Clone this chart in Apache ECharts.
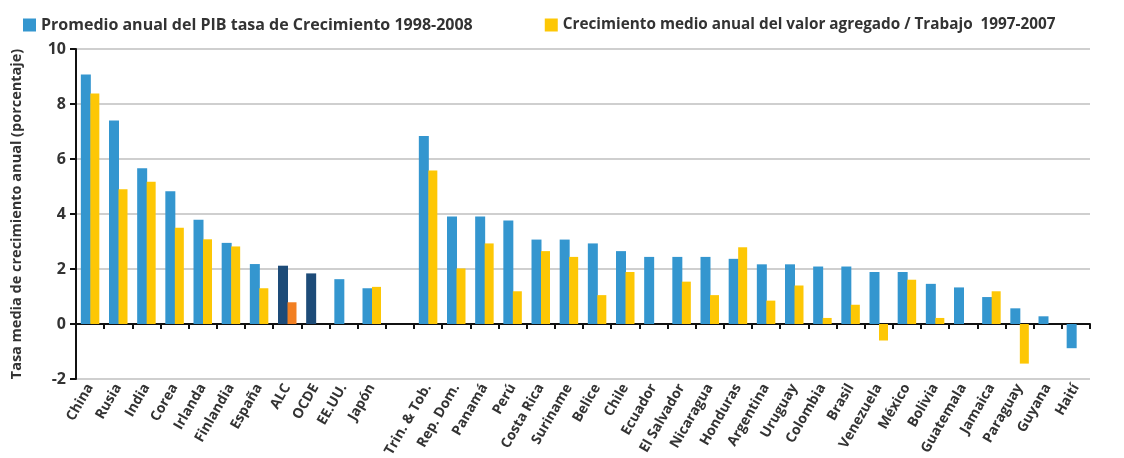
<!DOCTYPE html>
<html><head><meta charset="utf-8">
<script src="https://cdn.jsdelivr.net/npm/echarts@6/dist/echarts.min.js"></script>
<style>html,body{margin:0;padding:0;background:#fff}#c{width:1124px;height:458px}</style>
</head><body><div id="c"></div>
<script>
const categories = ['China','Rusia','India','Corea','Irlanda','Finlandia','España','ALC','OCDE','EE.UU.','Japón','',
 'Trin. & Tob.','Rep. Dom.','Panamá','Perú','Costa Rica','Suriname','Belice','Chile','Ecuador','El Salvador','Nicaragua',
 'Honduras','Argentina','Uruguay','Colombia','Brasil','Venezuela','México','Bolivia','Guatemala','Jamaica','Paraguay','Guyana','Haití'];
const pibGrowth = [9.07,7.4,5.66,4.83,3.79,2.95,2.18,2.12,1.84,1.63,1.3,null,
 6.84,3.91,3.91,3.76,3.07,3.07,2.93,2.65,2.44,2.44,2.44,
 2.37,2.17,2.17,2.09,2.09,1.89,1.89,1.46,1.33,0.98,0.57,0.28,-0.88];
const valueAddedGrowth = [8.38,4.9,5.17,3.5,3.08,2.82,1.3,0.79,null,null,1.35,null,
 5.58,2.02,2.93,1.19,2.65,2.44,1.05,1.89,null,1.54,1.05,
 2.79,0.85,1.4,0.22,0.7,-0.6,1.61,0.22,null,1.19,-1.44,null,null];
const yTicks = [-2,0,2,4,6,8,10];
const highlighted = ['ALC','OCDE'];
const seriesNames = ['Promedio anual del PIB tasa de Crecimiento 1998-2008','Crecimiento medio anual del valor agregado / Trabajo  1997-2007'];

const BLUE='#3496cf', YELLOW='#fdc705', NAVY='#1d4b78', ORANGE='#f27f22';
const FONT='Open Sans';
const blueData = pibGrowth.map((v,i)=> highlighted.includes(categories[i]) ? {value:v,itemStyle:{color:NAVY}} : v);
const yellowData = valueAddedGrowth.map((v,i)=> highlighted.includes(categories[i]) ? {value:v,itemStyle:{color:ORANGE}} : v);

const chart = echarts.init(document.getElementById('c'));
chart.setOption({
  animation:false,
  textStyle:{fontFamily:FONT},
  legend:{left:18,top:12,itemWidth:13,itemHeight:13,itemGap:72,icon:'rect',
    textStyle:{fontFamily:FONT,fontWeight:'bold',fontSize:16,color:'#333'},
    data:[{name:seriesNames[0]},{name:seriesNames[1],textStyle:{fontSize:15.3}}]},
  grid:{left:76,right:34,top:49,bottom:79,containLabel:false,outerBoundsMode:'none'},
  xAxis:{type:'category',data:categories,
    axisLine:{onZero:true,lineStyle:{color:'#111',width:2}},
    axisTick:{show:true,length:5,lineStyle:{color:'#111',width:2},interval:0},
    axisLabel:{interval:0,rotate:60,margin:6,fontFamily:FONT,fontWeight:'bold',fontSize:14,color:'#333'}},
  yAxis:{type:'value',min:-2,max:10,interval:2,
    name:'Tasa media de crecimiento anual (porcentaje)',nameLocation:'middle',nameGap:52,nameRotate:90,
    nameTextStyle:{fontFamily:FONT,fontWeight:'bold',fontSize:14.5,color:'#333'},
    axisLine:{show:true,lineStyle:{color:'#111',width:2}},
    axisTick:{show:true,length:6,lineStyle:{color:'#111',width:2}},
    axisLabel:{margin:10,fontFamily:FONT,fontWeight:'bold',fontSize:16,color:'#333',
      formatter:v=>yTicks.includes(v)?String(v):''},
    splitLine:{lineStyle:{color:'#cfcfcf',width:2}}},
  series:[
    {name:seriesNames[0],type:'bar',data:blueData,barWidth:10,barGap:'-5%',itemStyle:{color:BLUE}},
    {name:seriesNames[1],type:'bar',data:yellowData,barWidth:9,itemStyle:{color:YELLOW}}
  ]
});
</script></body></html>
